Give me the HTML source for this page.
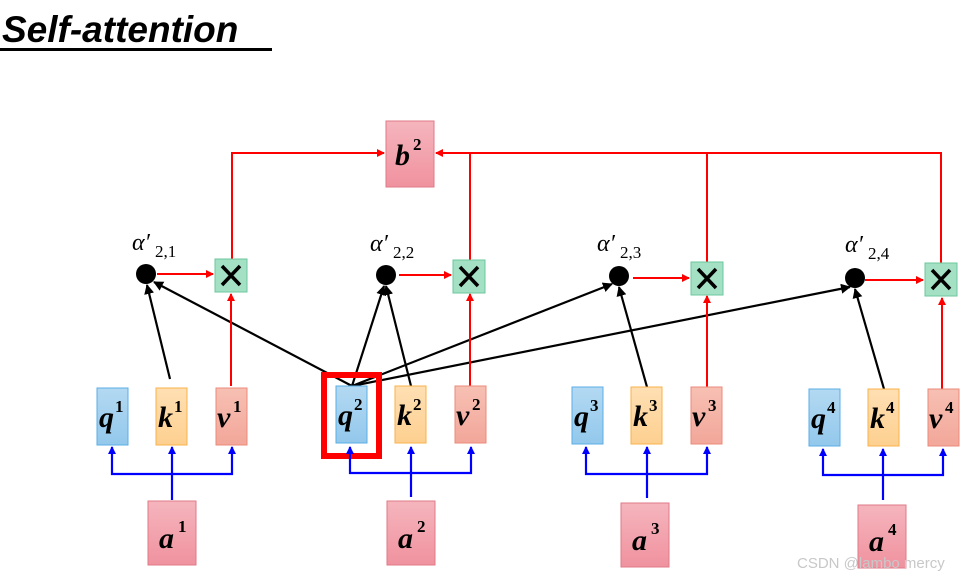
<!DOCTYPE html>
<html><head><meta charset="utf-8"><style>
body{margin:0;background:#fff;width:978px;height:580px;overflow:hidden}
svg{display:block}
.t{font-family:"Liberation Serif",serif;font-weight:bold;font-style:italic;font-size:30px}
.s{font-family:"Liberation Serif",serif;font-weight:bold;font-size:17px}
.al{font-family:"Liberation Serif",serif;font-style:italic;font-size:24px}
.as{font-family:"Liberation Serif",serif;font-size:17px}
</style></head><body>
<svg width="978" height="580" viewBox="0 0 978 580" xmlns="http://www.w3.org/2000/svg">
<defs>
<linearGradient id="gq" x1="0" y1="0" x2="0" y2="1"><stop offset="0" stop-color="#b3d9f2"/><stop offset="1" stop-color="#93c8ec"/></linearGradient>
<linearGradient id="gk" x1="0" y1="0" x2="0" y2="1"><stop offset="0" stop-color="#ffdfb3"/><stop offset="1" stop-color="#fdd090"/></linearGradient>
<linearGradient id="gv" x1="0" y1="0" x2="0" y2="1"><stop offset="0" stop-color="#f7c0b3"/><stop offset="1" stop-color="#f2a79a"/></linearGradient>
<linearGradient id="ga" x1="0" y1="0" x2="0" y2="1"><stop offset="0" stop-color="#f5b5bd"/><stop offset="1" stop-color="#f0929f"/></linearGradient>
<marker id="mr" markerWidth="8" markerHeight="8" refX="7" refY="4" orient="auto" markerUnits="userSpaceOnUse"><path d="M0,0 L8,4 L0,8z" fill="#f00"/></marker>
<marker id="mb" markerWidth="8" markerHeight="8" refX="7" refY="4" orient="auto" markerUnits="userSpaceOnUse"><path d="M0,0 L8,4 L0,8z" fill="#00f"/></marker>
<marker id="mk" markerWidth="10" markerHeight="10" refX="9" refY="5" orient="auto" markerUnits="userSpaceOnUse"><path d="M0,0 L10,5 L0,10z" fill="#000"/></marker>
</defs>
<text x="2" y="42" font-family="Liberation Sans,sans-serif" font-weight="bold" font-style="italic" font-size="37">Self-attention</text>
<rect x="0" y="48" width="272" height="3" fill="#000"/>

<!-- top red lines -->
<g stroke="#f00" stroke-width="2" fill="none">
<polyline points="232,259 232,153 384,153" marker-end="url(#mr)"/>
<line x1="470" y1="260" x2="470" y2="153"/>
<line x1="707" y1="262" x2="707" y2="153"/>
<polyline points="941,263 941,153 436,153" marker-end="url(#mr)"/>
</g>
<rect x="386" y="121" width="48" height="66" fill="url(#ga)" stroke="#e07a88"/>
<text class="t" x="395" y="165">b</text><text class="s" x="413" y="150">2</text>

<!-- black arrows from q2 -->
<g stroke="#000" stroke-width="2.2" fill="none">
<line x1="352" y1="386" x2="154" y2="282" marker-end="url(#mk)"/>
<line x1="352" y1="386" x2="384" y2="286" marker-end="url(#mk)"/>
<line x1="352" y1="386" x2="612" y2="284" marker-end="url(#mk)"/>
<line x1="352" y1="386" x2="850" y2="287" marker-end="url(#mk)"/>
<line x1="170" y1="379" x2="147" y2="285" marker-end="url(#mk)"/>
<line x1="411" y1="386" x2="386" y2="286" marker-end="url(#mk)"/>
<line x1="647" y1="387" x2="619" y2="287" marker-end="url(#mk)"/>
<line x1="884" y1="389" x2="855" y2="289" marker-end="url(#mk)"/>
</g>

<g id="grp"></g>
<!-- groups -->
<g stroke="#f00" stroke-width="2" fill="none">
<line x1="157" y1="274" x2="213" y2="274" marker-end="url(#mr)"/>
<line x1="231" y1="386" x2="231" y2="294" marker-end="url(#mr)"/>
<line x1="399" y1="275" x2="451" y2="275" marker-end="url(#mr)"/>
<line x1="470" y1="386" x2="470" y2="294" marker-end="url(#mr)"/>
<line x1="633" y1="278" x2="689" y2="278" marker-end="url(#mr)"/>
<line x1="707" y1="387" x2="707" y2="296" marker-end="url(#mr)"/>
<line x1="865" y1="280" x2="923" y2="280" marker-end="url(#mr)"/>
<line x1="942" y1="389" x2="942" y2="298" marker-end="url(#mr)"/>
</g>
<g fill="#000">
<circle cx="146" cy="274" r="10"/><circle cx="386" cy="275" r="10"/><circle cx="619" cy="276" r="10"/><circle cx="855" cy="278" r="10"/>
</g>
<g fill="#a4e0c4" stroke="#6cc79b">
<rect x="215" y="259" width="32" height="33"/><rect x="453" y="260" width="32" height="33"/><rect x="691" y="262" width="32" height="33"/><rect x="925" y="263" width="32" height="33"/>
</g>
<g stroke="#000" stroke-width="3.5">
<path d="M222,266 L240,285 M240,266 L222,285"/>
<path d="M460,267 L478,286 M478,267 L460,286"/>
<path d="M698,269 L716,288 M716,269 L698,288"/>
<path d="M932,270 L950,289 M950,270 L932,289"/>
</g>
<g>
<text class="al" x="132" y="250">α′</text><text class="as" x="155" y="257">2,1</text>
<text class="al" x="370" y="251">α′</text><text class="as" x="393" y="258">2,2</text>
<text class="al" x="597" y="251">α′</text><text class="as" x="620" y="258">2,3</text>
<text class="al" x="845" y="252">α′</text><text class="as" x="868" y="259">2,4</text>
</g>

<!-- qkv boxes -->
<g stroke-width="1">
<rect x="97" y="388" width="31" height="57" fill="url(#gq)" stroke="#5aaee6"/>
<rect x="156" y="388" width="31" height="57" fill="url(#gk)" stroke="#f9b24a"/>
<rect x="216" y="388" width="31" height="57" fill="url(#gv)" stroke="#eb8a7a"/>
<rect x="336" y="386" width="31" height="57" fill="url(#gq)" stroke="#5aaee6"/>
<rect x="395" y="386" width="31" height="57" fill="url(#gk)" stroke="#f9b24a"/>
<rect x="455" y="386" width="31" height="57" fill="url(#gv)" stroke="#eb8a7a"/>
<rect x="572" y="387" width="31" height="57" fill="url(#gq)" stroke="#5aaee6"/>
<rect x="631" y="387" width="31" height="57" fill="url(#gk)" stroke="#f9b24a"/>
<rect x="691" y="387" width="31" height="57" fill="url(#gv)" stroke="#eb8a7a"/>
<rect x="809" y="389" width="31" height="57" fill="url(#gq)" stroke="#5aaee6"/>
<rect x="868" y="389" width="31" height="57" fill="url(#gk)" stroke="#f9b24a"/>
<rect x="928" y="389" width="31" height="57" fill="url(#gv)" stroke="#eb8a7a"/>
</g>
<rect x="324" y="375" width="55" height="81" fill="none" stroke="#f00" stroke-width="6"/>
<g>
<text class="t" x="99" y="427">q</text><text class="s" x="115" y="412">1</text>
<text class="t" x="158" y="427">k</text><text class="s" x="174" y="412">1</text>
<text class="t" x="217" y="427">v</text><text class="s" x="233" y="412">1</text>
<text class="t" x="338" y="425">q</text><text class="s" x="354" y="410">2</text>
<text class="t" x="397" y="425">k</text><text class="s" x="413" y="410">2</text>
<text class="t" x="456" y="425">v</text><text class="s" x="472" y="410">2</text>
<text class="t" x="574" y="426">q</text><text class="s" x="590" y="411">3</text>
<text class="t" x="633" y="426">k</text><text class="s" x="649" y="411">3</text>
<text class="t" x="692" y="426">v</text><text class="s" x="708" y="411">3</text>
<text class="t" x="811" y="428">q</text><text class="s" x="827" y="413">4</text>
<text class="t" x="870" y="428">k</text><text class="s" x="886" y="413">4</text>
<text class="t" x="929" y="428">v</text><text class="s" x="945" y="413">4</text>
</g>

<!-- blue connectors -->
<g stroke="#00f" stroke-width="2.2" fill="none">
<polyline points="112,447 112,474 232,474 232,447"/>
<line x1="172" y1="500" x2="172" y2="447"/>
<polyline points="350,447 350,473 471,473 471,447"/>
<line x1="411" y1="497" x2="411" y2="447"/>
<polyline points="586,447 586,474 707,474 707,447"/>
<line x1="647" y1="498" x2="647" y2="447"/>
<polyline points="823,449 823,475 943,475 943,449"/>
<line x1="883" y1="500" x2="883" y2="449"/>
</g>
<g fill="#00f">
<path d="M108,454 L112,446 L116,454z M168,454 L172,446 L176,454z M228,454 L232,446 L236,454z"/>
<path d="M346,454 L350,446 L354,454z M407,454 L411,446 L415,454z M467,454 L471,446 L475,454z"/>
<path d="M582,454 L586,446 L590,454z M643,454 L647,446 L651,454z M703,454 L707,446 L711,454z"/>
<path d="M819,456 L823,448 L827,456z M879,456 L883,448 L887,456z M939,456 L943,448 L947,456z"/>
</g>

<!-- a boxes -->
<g stroke="#e07a88">
<rect x="148" y="501" width="48" height="64" fill="url(#ga)"/>
<rect x="387" y="501" width="48" height="64" fill="url(#ga)"/>
<rect x="621" y="503" width="48" height="64" fill="url(#ga)"/>
<rect x="858" y="505" width="48" height="63" fill="url(#ga)"/>
</g>
<text class="t" x="159" y="548">a</text><text class="s" x="178" y="532">1</text>
<text class="t" x="398" y="548">a</text><text class="s" x="417" y="532">2</text>
<text class="t" x="632" y="550">a</text><text class="s" x="651" y="534">3</text>
<text class="t" x="869" y="551">a</text><text class="s" x="888" y="535">4</text>
<text x="797" y="568" font-family="Liberation Sans,sans-serif" font-size="15" fill="#c8c8c8">CSDN @lambo mercy</text>
</svg>
</body></html>
